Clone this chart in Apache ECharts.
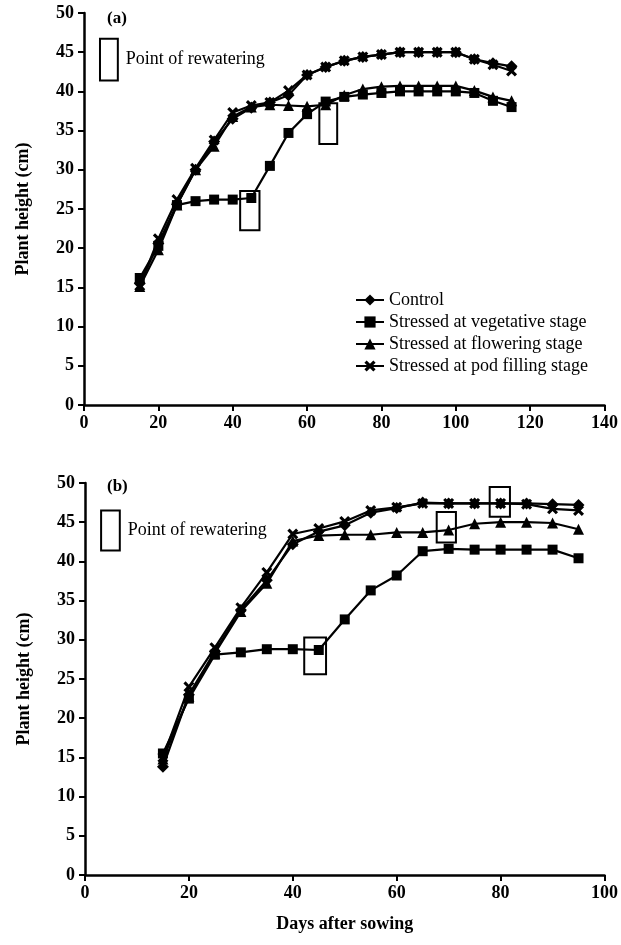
<!DOCTYPE html>
<html>
<head>
<meta charset="utf-8">
<script src="https://cdn.jsdelivr.net/npm/echarts@6/dist/echarts.min.js"></script>
<style>
  html, body { margin: 0; padding: 0; background: #fff; }
  #main { width: 621px; height: 945px; }
</style>
</head>
<body>
<div id="main"></div>
<script>
// panel (a)
const daysA = [15, 20, 25, 30, 35, 40, 45, 50, 55, 60, 65, 70, 75, 80, 85, 90, 95, 100, 105, 110, 115];
const controlA = [15.5, 20.6, 25.6, 30, 33.6, 36.5, 37.9, 38.6, 39.5, 42.1, 43.1, 43.9, 44.4, 44.7, 45, 45, 45, 45, 44.1, 43.6, 43.2];
const vegA = [16.2, 20.3, 25.5, 26, 26.2, 26.2, 26.4, 30.5, 34.7, 37.1, 38.7, 39.3, 39.6, 39.8, 40, 40, 40, 40, 39.8, 38.8, 38];
const flowerA = [15.1, 19.8, 25.5, 30, 33, 36.8, 38, 38.3, 38.2, 38.1, 38.3, 39.5, 40.3, 40.6, 40.7, 40.7, 40.7, 40.7, 40.1, 39.3, 38.8];
const podA = [15.2, 21.2, 26.2, 30.2, 33.8, 37.3, 38.2, 38.6, 40.1, 42.1, 43.1, 43.9, 44.4, 44.7, 45, 45, 45, 45, 44.1, 43.4, 42.6];
// boxes [x1, y1, x2, y2] in axis units
const rewaterA = [[42, 27.3, 47.2, 22.3], [63.3, 38.5, 68.1, 33.3]];
const keyBoxA = [4.3, 46.7, 9.1, 41.4];
const xTicksA = { min: 0, max: 140, step: 20 };

// panel (b)
const daysB = [15, 20, 25, 30, 35, 40, 45, 50, 55, 60, 65, 70, 75, 80, 85, 90, 95];
const controlB = [13.8, 23, 28.5, 33.8, 37.6, 42.2, 43.8, 44.6, 46.2, 46.8, 47.5, 47.4, 47.4, 47.4, 47.4, 47.3, 47.2];
const vegB = [15.5, 22.5, 28.1, 28.4, 28.8, 28.8, 28.7, 32.6, 36.3, 38.2, 41.3, 41.6, 41.5, 41.5, 41.5, 41.5, 40.4];
const flowerB = [14.8, 22.8, 28.3, 33.6, 37.2, 42.6, 43.3, 43.4, 43.4, 43.7, 43.7, 44, 44.8, 45, 45, 44.9, 44.1];
const podB = [15, 24, 29, 34.1, 38.6, 43.5, 44.2, 45.1, 46.5, 46.9, 47.4, 47.4, 47.4, 47.4, 47.3, 46.7, 46.5];
const rewaterB = [[42.2, 30.3, 46.4, 25.6], [67.7, 46.3, 71.4, 42.4], [77.9, 49.5, 81.8, 45.7]];
const keyBoxB = [3.1, 46.5, 6.7, 41.4];
const xTicksB = { min: 0, max: 100, step: 20 };

const names = ['Control', 'Stressed at vegetative stage', 'Stressed at flowering stage', 'Stressed at pod filling stage'];
const serif = 'Liberation Serif';
const crossPath = 'path://M0,2L2,0L5,3L8,0L10,2L7,5L10,8L8,10L5,7L2,10L0,8L3,5Z';

function line(name, days, vals, symbol, size, idx) {
  return {
    name: name,
    type: 'line',
    xAxisIndex: idx,
    yAxisIndex: idx,
    data: days.map((d, i) => [d, vals[i]]),
    symbol: symbol,
    symbolSize: size,
    lineStyle: { color: '#000', width: 2.2 },
    itemStyle: { color: '#000' },
    emphasis: { disabled: true },
    animation: false
  };
}

function boxes(list, key, idx) {
  const areas = list.map(b => [{ coord: [b[0], b[1]] }, { coord: [b[2], b[3]] }]);
  areas.push([{
    coord: [key[0], key[1]],
    name: 'Point of rewatering',
    label: {
      show: true, position: 'right', distance: 7, formatter: 'Point of rewatering',
      color: '#000', fontFamily: serif, fontSize: 18
    }
  }, { coord: [key[2], key[3]] }]);
  return {
    name: 'rewater' + idx,
    type: 'line',
    xAxisIndex: idx,
    yAxisIndex: idx,
    data: [],
    silent: true,
    animation: false,
    markArea: {
      silent: true,
      label: { show: false },
      itemStyle: { color: 'rgba(0,0,0,0)', borderColor: '#000', borderWidth: 2 },
      emphasis: { disabled: true },
      data: areas
    }
  };
}

function xAxis(idx, t, name) {
  return {
    gridIndex: idx, type: 'value', min: t.min, max: t.max, interval: t.step,
    name: name, nameLocation: 'middle', nameGap: 40,
    nameTextStyle: { color: '#000', fontFamily: serif, fontWeight: 'bold', fontSize: 18 },
    axisLine: { onZero: false, lineStyle: { color: '#000', width: 2.5 } },
    axisTick: { length: 6, lineStyle: { color: '#000', width: 2 } },
    axisLabel: { color: '#000', fontFamily: serif, fontWeight: 'bold', fontSize: 18, margin: 9 },
    splitLine: { show: false }
  };
}

function yAxis(idx) {
  return {
    gridIndex: idx, type: 'value', min: 0, max: 50, interval: 5,
    name: 'Plant height (cm)', nameLocation: 'middle', nameGap: 52,
    nameTextStyle: { color: '#000', fontFamily: serif, fontWeight: 'bold', fontSize: 18 },
    axisLine: { show: true, lineStyle: { color: '#000', width: 2.5 } },
    axisTick: { show: true, length: 6, lineStyle: { color: '#000', width: 2 } },
    axisLabel: { color: '#000', fontFamily: serif, fontWeight: 'bold', fontSize: 18, margin: 10 },
    splitLine: { show: false }
  };
}

const chart = echarts.init(document.getElementById('main'));
chart.setOption({
  backgroundColor: '#fff',
  animation: false,
  grid: [
    { left: 84, top: 13, width: 522, height: 392 },
    { left: 85, top: 483, width: 521, height: 392 }
  ],
  xAxis: [xAxis(0, xTicksA, ''), xAxis(1, xTicksB, 'Days after sowing')],
  yAxis: [yAxis(0), yAxis(1)],
  legend: {
    data: names,
    orient: 'vertical',
    left: 350,
    top: 286,
    itemWidth: 28,
    itemHeight: 14,
    itemGap: 4,
    selectedMode: false,
    textStyle: { color: '#000', fontFamily: serif, fontSize: 18 }
  },
  graphic: [
    { type: 'text', left: 107, top: 10, style: { text: '(a)', fill: '#000', font: 'bold 17px "Liberation Serif"' } },
    { type: 'text', left: 107, top: 478, style: { text: '(b)', fill: '#000', font: 'bold 17px "Liberation Serif"' } }
  ],
  series: [
    boxes(rewaterA, keyBoxA, 0),
    line(names[1], daysA, vegA, 'rect', 10, 0),
    line(names[2], daysA, flowerA, 'triangle', 11, 0),
    line(names[3], daysA, podA, crossPath, 11, 0),
    line(names[0], daysA, controlA, 'diamond', 12, 0),
    boxes(rewaterB, keyBoxB, 1),
    line(names[1], daysB, vegB, 'rect', 10, 1),
    line(names[2], daysB, flowerB, 'triangle', 11, 1),
    line(names[3], daysB, podB, crossPath, 11, 1),
    line(names[0], daysB, controlB, 'diamond', 12, 1)
  ]
});
</script>
</body>
</html>
